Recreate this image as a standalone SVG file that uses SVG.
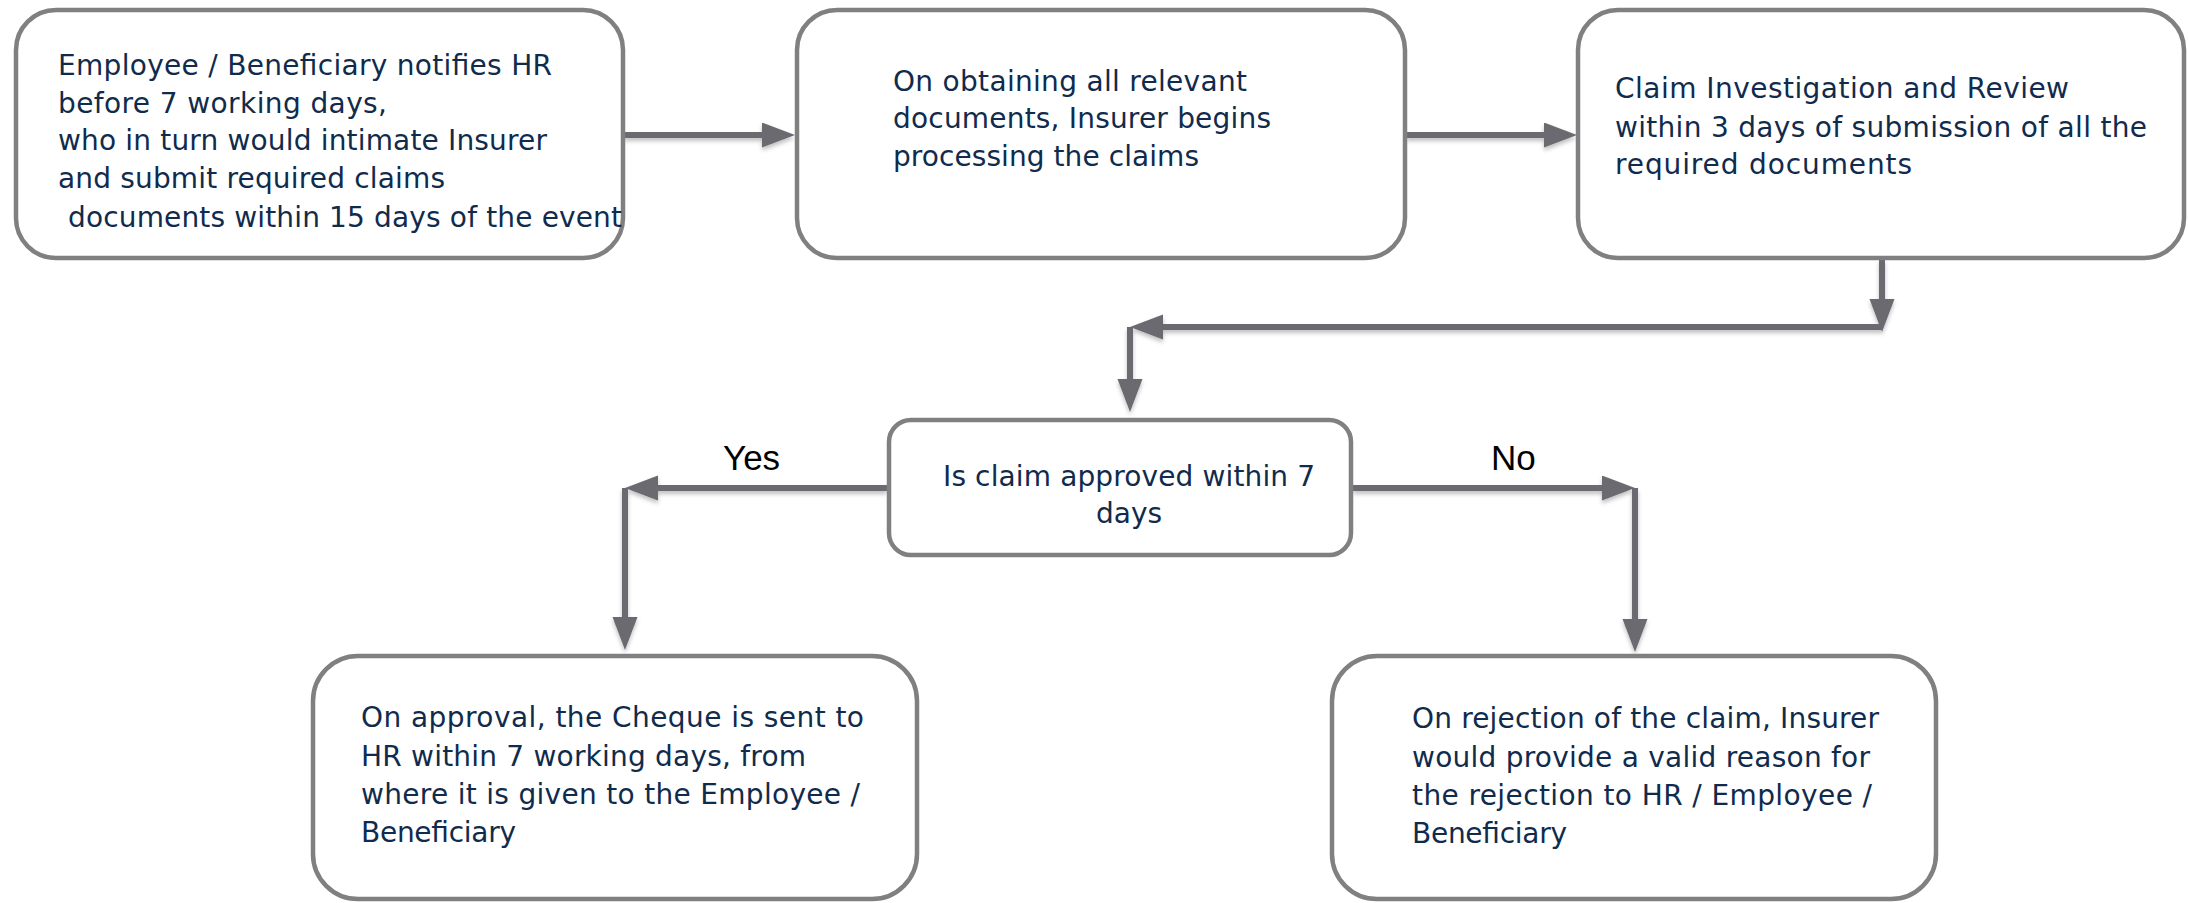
<svg xmlns="http://www.w3.org/2000/svg" width="2188" height="903" viewBox="0 0 2188 903">
<style>
.box{fill:#fff;stroke:#808080;stroke-width:4.5}
.t{font-family:"DejaVu Sans","Liberation Sans",sans-serif;font-size:28px;fill:#102b4c}
.lbl{font-family:"Liberation Sans",Arial,sans-serif;font-size:35px;fill:#000}
.c{fill:none;stroke:#6a6b70;stroke-width:6;marker-end:url(#ah)}
</style>
<defs>
<marker id="ah" markerUnits="userSpaceOnUse" markerWidth="34" markerHeight="26" refX="13" refY="12.5" orient="auto">
<path d="M0,0 L33,12.5 L0,25 z" fill="#6a6b70"/>
</marker>
<filter id="sh" x="-10%" y="-50%" width="120%" height="200%">
<feDropShadow dx="0" dy="3" stdDeviation="2" flood-color="#000" flood-opacity="0.25"/>
</filter>
</defs>
<rect width="2188" height="903" fill="#fff"/>
<g id="connectors" filter="url(#sh)">
<path class="c" d="M624,135 H775"/>
<path class="c" d="M1406,135 H1557"/>
<path class="c" d="M1882,260 V312"/>
<path class="c" d="M1882,327 H1150"/>
<path class="c" d="M1130,327 V392"/>
<path class="c" d="M887,488 H645"/>
<path class="c" d="M625,488 V630"/>
<path class="c" d="M1353,488 H1615"/>
<path class="c" d="M1635,488 V632"/>
</g>
<g id="notify">
<rect class="box" x="16" y="10" width="607" height="248" rx="40"/>
<text class="t"><tspan x="58" y="75" textLength="494">Employee / Beneficiary notifies HR</tspan><tspan x="58" y="113" textLength="329">before 7 working days,</tspan><tspan x="58" y="150" textLength="489">who in turn would intimate Insurer</tspan><tspan x="58" y="188" textLength="387">and submit required claims</tspan><tspan x="68" y="227" textLength="554">documents within 15 days of the event</tspan></text>
</g>
<g id="processing">
<rect class="box" x="797" y="10" width="608" height="248" rx="40"/>
<text class="t"><tspan x="893" y="91" textLength="354">On obtaining all relevant</tspan><tspan x="893" y="128" textLength="378">documents, Insurer begins</tspan><tspan x="893" y="166" textLength="306">processing the claims</tspan></text>
</g>
<g id="review">
<rect class="box" x="1578" y="10" width="606" height="248" rx="40"/>
<text class="t"><tspan x="1615" y="98" textLength="454">Claim Investigation and Review</tspan><tspan x="1615" y="137" textLength="532">within 3 days of submission of all the</tspan><tspan x="1615" y="174" textLength="297">required documents</tspan></text>
</g>
<g id="decision">
<rect class="box" x="889" y="420" width="462" height="135" rx="22"/>
<text class="t" text-anchor="middle"><tspan x="1129" y="486" textLength="372">Is claim approved within 7</tspan><tspan x="1129" y="523">days</tspan></text>
</g>
<g id="labels">
<text class="lbl" x="723" y="470">Yes</text>
<text class="lbl" x="1491" y="470">No</text>
</g>
<g id="approved">
<rect class="box" x="313" y="656" width="604" height="243" rx="45"/>
<text class="t"><tspan x="361" y="727" textLength="503">On approval, the Cheque is sent to</tspan><tspan x="361" y="766" textLength="445">HR within 7 working days, from</tspan><tspan x="361" y="804" textLength="499">where it is given to the Employee /</tspan><tspan x="361" y="842" textLength="155">Beneficiary</tspan></text>
</g>
<g id="rejected">
<rect class="box" x="1332" y="656" width="604" height="243" rx="45"/>
<text class="t"><tspan x="1412" y="728" textLength="467">On rejection of the claim, Insurer</tspan><tspan x="1412" y="767" textLength="458">would provide a valid reason for</tspan><tspan x="1412" y="805" textLength="460">the rejection to HR / Employee /</tspan><tspan x="1412" y="843" textLength="155">Beneficiary</tspan></text>
</g>
</svg>
